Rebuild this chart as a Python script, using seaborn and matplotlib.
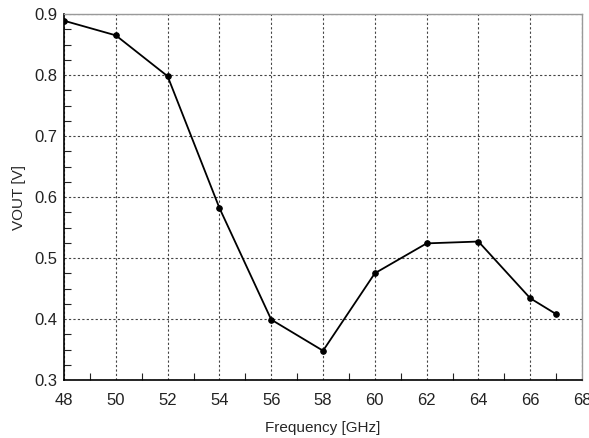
import numpy as np
import pandas as pd
import matplotlib
matplotlib.use("Agg")
import matplotlib.pyplot as plt
import seaborn as sns
from matplotlib.ticker import MultipleLocator

freq_ghz = [48, 50, 52, 54, 56, 58, 60, 62, 64, 66, 67]
vout_v = [0.889, 0.865, 0.798, 0.582, 0.399, 0.348, 0.475, 0.524, 0.527, 0.434, 0.408]
x_ticks = [48, 50, 52, 54, 56, 58, 60, 62, 64, 66, 68]
y_ticks = [0.3, 0.4, 0.5, 0.6, 0.7, 0.8, 0.9]

df = pd.DataFrame({"Frequency [GHz]": freq_ghz, "VOUT [V]": vout_v})

sns.set_style("ticks")
plt.rcParams["font.family"] = ["Liberation Sans", "DejaVu Sans"]

fig = plt.figure(figsize=(5.89, 4.38), dpi=100)
ax = fig.add_axes([0.1087, 0.1324, 0.8795, 0.8356])

sns.lineplot(data=df, x="Frequency [GHz]", y="VOUT [V]", ax=ax,
             color="black", linewidth=1.3, marker="o", markersize=4,
             markeredgecolor="black", zorder=3)

ax.set_xlim(48, 68)
ax.set_ylim(0.3, 0.9)
ax.set_xticks(x_ticks)
ax.set_yticks(y_ticks)
ax.set_yticklabels([f"{v:.1f}" for v in y_ticks])
ax.xaxis.set_minor_locator(MultipleLocator(1))
ax.yaxis.set_minor_locator(MultipleLocator(0.025))
ax.tick_params(which="both", direction="in", labelsize=12, colors="#222222")
ax.tick_params(which="major", length=0)
ax.tick_params(axis="x", which="major", pad=9)
ax.tick_params(axis="y", which="major", pad=5)
ax.tick_params(which="minor", length=5, width=0.8)

ax.grid(True, which="major", color="#444444", linestyle=(0, (2, 2)), linewidth=0.8)

for side in ["left", "bottom"]:
    ax.spines[side].set_color("black")
    ax.spines[side].set_linewidth(1.2)
for side in ["top", "right"]:
    ax.spines[side].set_visible(True)
    ax.spines[side].set_color("#999999")
    ax.spines[side].set_linewidth(1.0)

ax.set_xlabel("Frequency [GHz]", fontsize=11, labelpad=10)
ax.set_ylabel("VOUT [V]", fontsize=11, labelpad=6)

fig.savefig("out.png", dpi=100)
